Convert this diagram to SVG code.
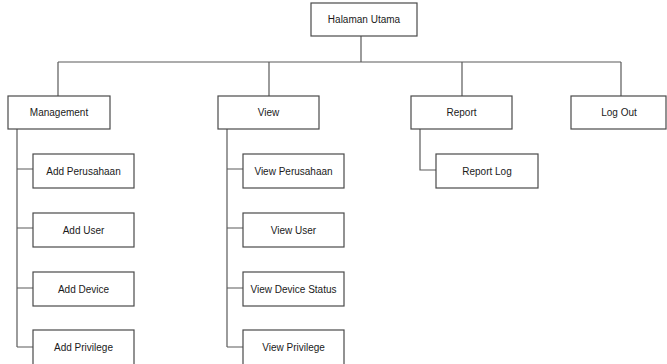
<svg xmlns="http://www.w3.org/2000/svg" width="667" height="364" viewBox="0 0 667 364">
<style>
.box{fill:#fff;stroke:#4a4a4a;stroke-width:1.2}
.lbl{font-family:"Liberation Sans",Arial,sans-serif;font-size:10px;fill:#1a1a1a;text-anchor:middle;dominant-baseline:central}
.ln{fill:none;stroke:#5a5a5a;stroke-width:1.2}
</style>
<rect width="667" height="364" fill="#fff"/>
<g id="connectors" class="ln">
<path d="M361 36V62M58 62H621M58 62V96M269 62V96M462 62V96M621 62V96"/>
<path d="M17 129V347M17 169H33M17 228H33M17 288H33M17 347H33"/>
<path d="M227 129V347M227 169H243M227 228H243M227 288H243M227 347H243"/>
<path d="M420 129V170H436"/>
</g>
<g id="halaman-utama"><rect class="box" x="311" y="3" width="106" height="33"/><text class="lbl" x="364" y="19.5">Halaman Utama</text></g>
<g id="management"><rect class="box" x="8" y="96" width="102" height="33"/><text class="lbl" x="59" y="112.5">Management</text></g>
<g id="view"><rect class="box" x="218" y="96" width="101" height="33"/><text class="lbl" x="268.5" y="112.5">View</text></g>
<g id="report"><rect class="box" x="411" y="96" width="101" height="33"/><text class="lbl" x="461.5" y="112.5">Report</text></g>
<g id="log-out"><rect class="box" x="571" y="96" width="95" height="33"/><text class="lbl" x="619" y="112.5">Log Out</text></g>
<g id="add-perusahaan"><rect class="box" x="33" y="154" width="101" height="34"/><text class="lbl" x="83.5" y="171">Add Perusahaan</text></g>
<g id="add-user"><rect class="box" x="33" y="213" width="101" height="34"/><text class="lbl" x="83.5" y="230">Add User</text></g>
<g id="add-device"><rect class="box" x="33" y="272" width="101" height="34"/><text class="lbl" x="83.5" y="289">Add Device</text></g>
<g id="add-privilege"><rect class="box" x="33" y="330" width="101" height="40"/><text class="lbl" x="83.5" y="347">Add Privilege</text></g>
<g id="view-perusahaan"><rect class="box" x="243" y="154" width="101" height="34"/><text class="lbl" x="293.5" y="171">View Perusahaan</text></g>
<g id="view-user"><rect class="box" x="243" y="213" width="101" height="34"/><text class="lbl" x="293.5" y="230">View User</text></g>
<g id="view-device-status"><rect class="box" x="243" y="272" width="101" height="34"/><text class="lbl" x="293.5" y="289">View Device Status</text></g>
<g id="view-privilege"><rect class="box" x="243" y="330" width="101" height="40"/><text class="lbl" x="293.5" y="347">View Privilege</text></g>
<g id="report-log"><rect class="box" x="436" y="154" width="102" height="34"/><text class="lbl" x="487" y="171">Report Log</text></g>
</svg>
